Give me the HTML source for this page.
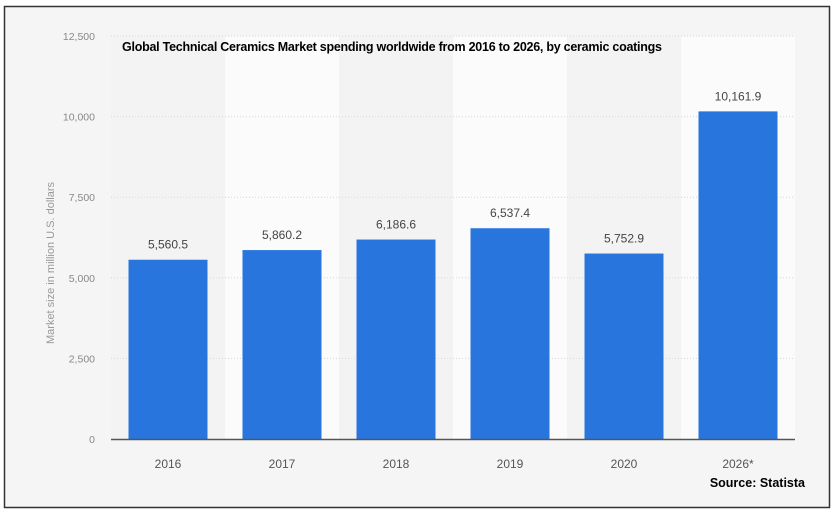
<!DOCTYPE html>
<html><head><meta charset="utf-8"><style>
html,body{margin:0;padding:0;background:#fff;}
body{width:834px;height:514px;overflow:hidden;font-family:"Liberation Sans",sans-serif;}
</style></head><body>
<svg width="834" height="514" xmlns="http://www.w3.org/2000/svg">
<rect x="4.5" y="6.5" width="825" height="501" fill="#f5f5f5" stroke="#333" stroke-width="1.5"/>
<g id="bands"></g>
<g id="grid"></g>
<g id="bars"></g>
<line x1="111" y1="439.5" x2="795" y2="439.5" stroke="#555" stroke-width="1.5"/>
<text x="122" y="51" font-family="Liberation Sans Narrow, Liberation Sans, sans-serif" font-weight="bold" font-size="12.5" fill="#000" textLength="540">Global Technical Ceramics Market spending worldwide from 2016 to 2026, by ceramic coatings</text>
<text transform="translate(54,263) rotate(-90)" text-anchor="middle" font-size="11" fill="#999">Market size in million U.S. dollars</text>
<text x="805" y="487" text-anchor="end" font-weight="bold" font-size="12.5" fill="#000">Source: Statista</text>
</svg>
<script>
const categories=["2016","2017","2018","2019","2020","2026*"];
const values=[5560.5,5860.2,6186.6,6537.4,5752.9,10161.9];
const valueLabels=["5,560.5","5,860.2","6,186.6","6,537.4","5,752.9","10,161.9"];
const yTicks=[0,2500,5000,7500,10000,12500];
const yTickLabels=["0","2,500","5,000","7,500","10,000","12,500"];
const NS="http://www.w3.org/2000/svg";
const L=111,R=795,T=36,B=439,yMax=12500;
const bw=(R-L)/categories.length;
function y(v){return B-(v/yMax)*(B-T);}
function x(i){return L+i*bw;}
function mk(tag,attrs,parent){const e=document.createElementNS(NS,tag);for(const k in attrs)e.setAttribute(k,attrs[k]);document.getElementById(parent).appendChild(e);return e;}
categories.forEach((c,i)=>{
  const b=mk('rect',{x:x(i),y:T,width:bw,height:B-T,fill:i%2?'#fbfbfb':'#f3f3f3'},'bands');
  
  
});
yTicks.forEach((t,i)=>{
  if(t>0){const g=mk('line',{x1:L,x2:R,y1:y(t),y2:y(t),stroke:'#d8d8d8','stroke-dasharray':'1,2'},'grid');
  
  }
  const tl=mk('text',{x:95,y:y(t)+4,'text-anchor':'end','font-size':'10.5',fill:'#888'},'grid');
  tl.textContent=yTickLabels[i];
  
  
});
categories.forEach((c,i)=>{
  const cx=x(i)+bw/2,w=79;
  const r=mk('rect',{x:cx-w/2,y:y(values[i]),width:w,height:B-y(values[i]),fill:'#2876dd'},'bars');
  
  
  const vl=mk('text',{x:cx,y:y(values[i])-11,'text-anchor':'middle','font-size':'12',fill:'#444'},'bars');
  vl.textContent=valueLabels[i];
  
  
  const xl=mk('text',{x:cx,y:468,'text-anchor':'middle','font-size':'12',fill:'#555'},'bars');
  xl.textContent=c;
  
  
});
</script>
</body></html>
